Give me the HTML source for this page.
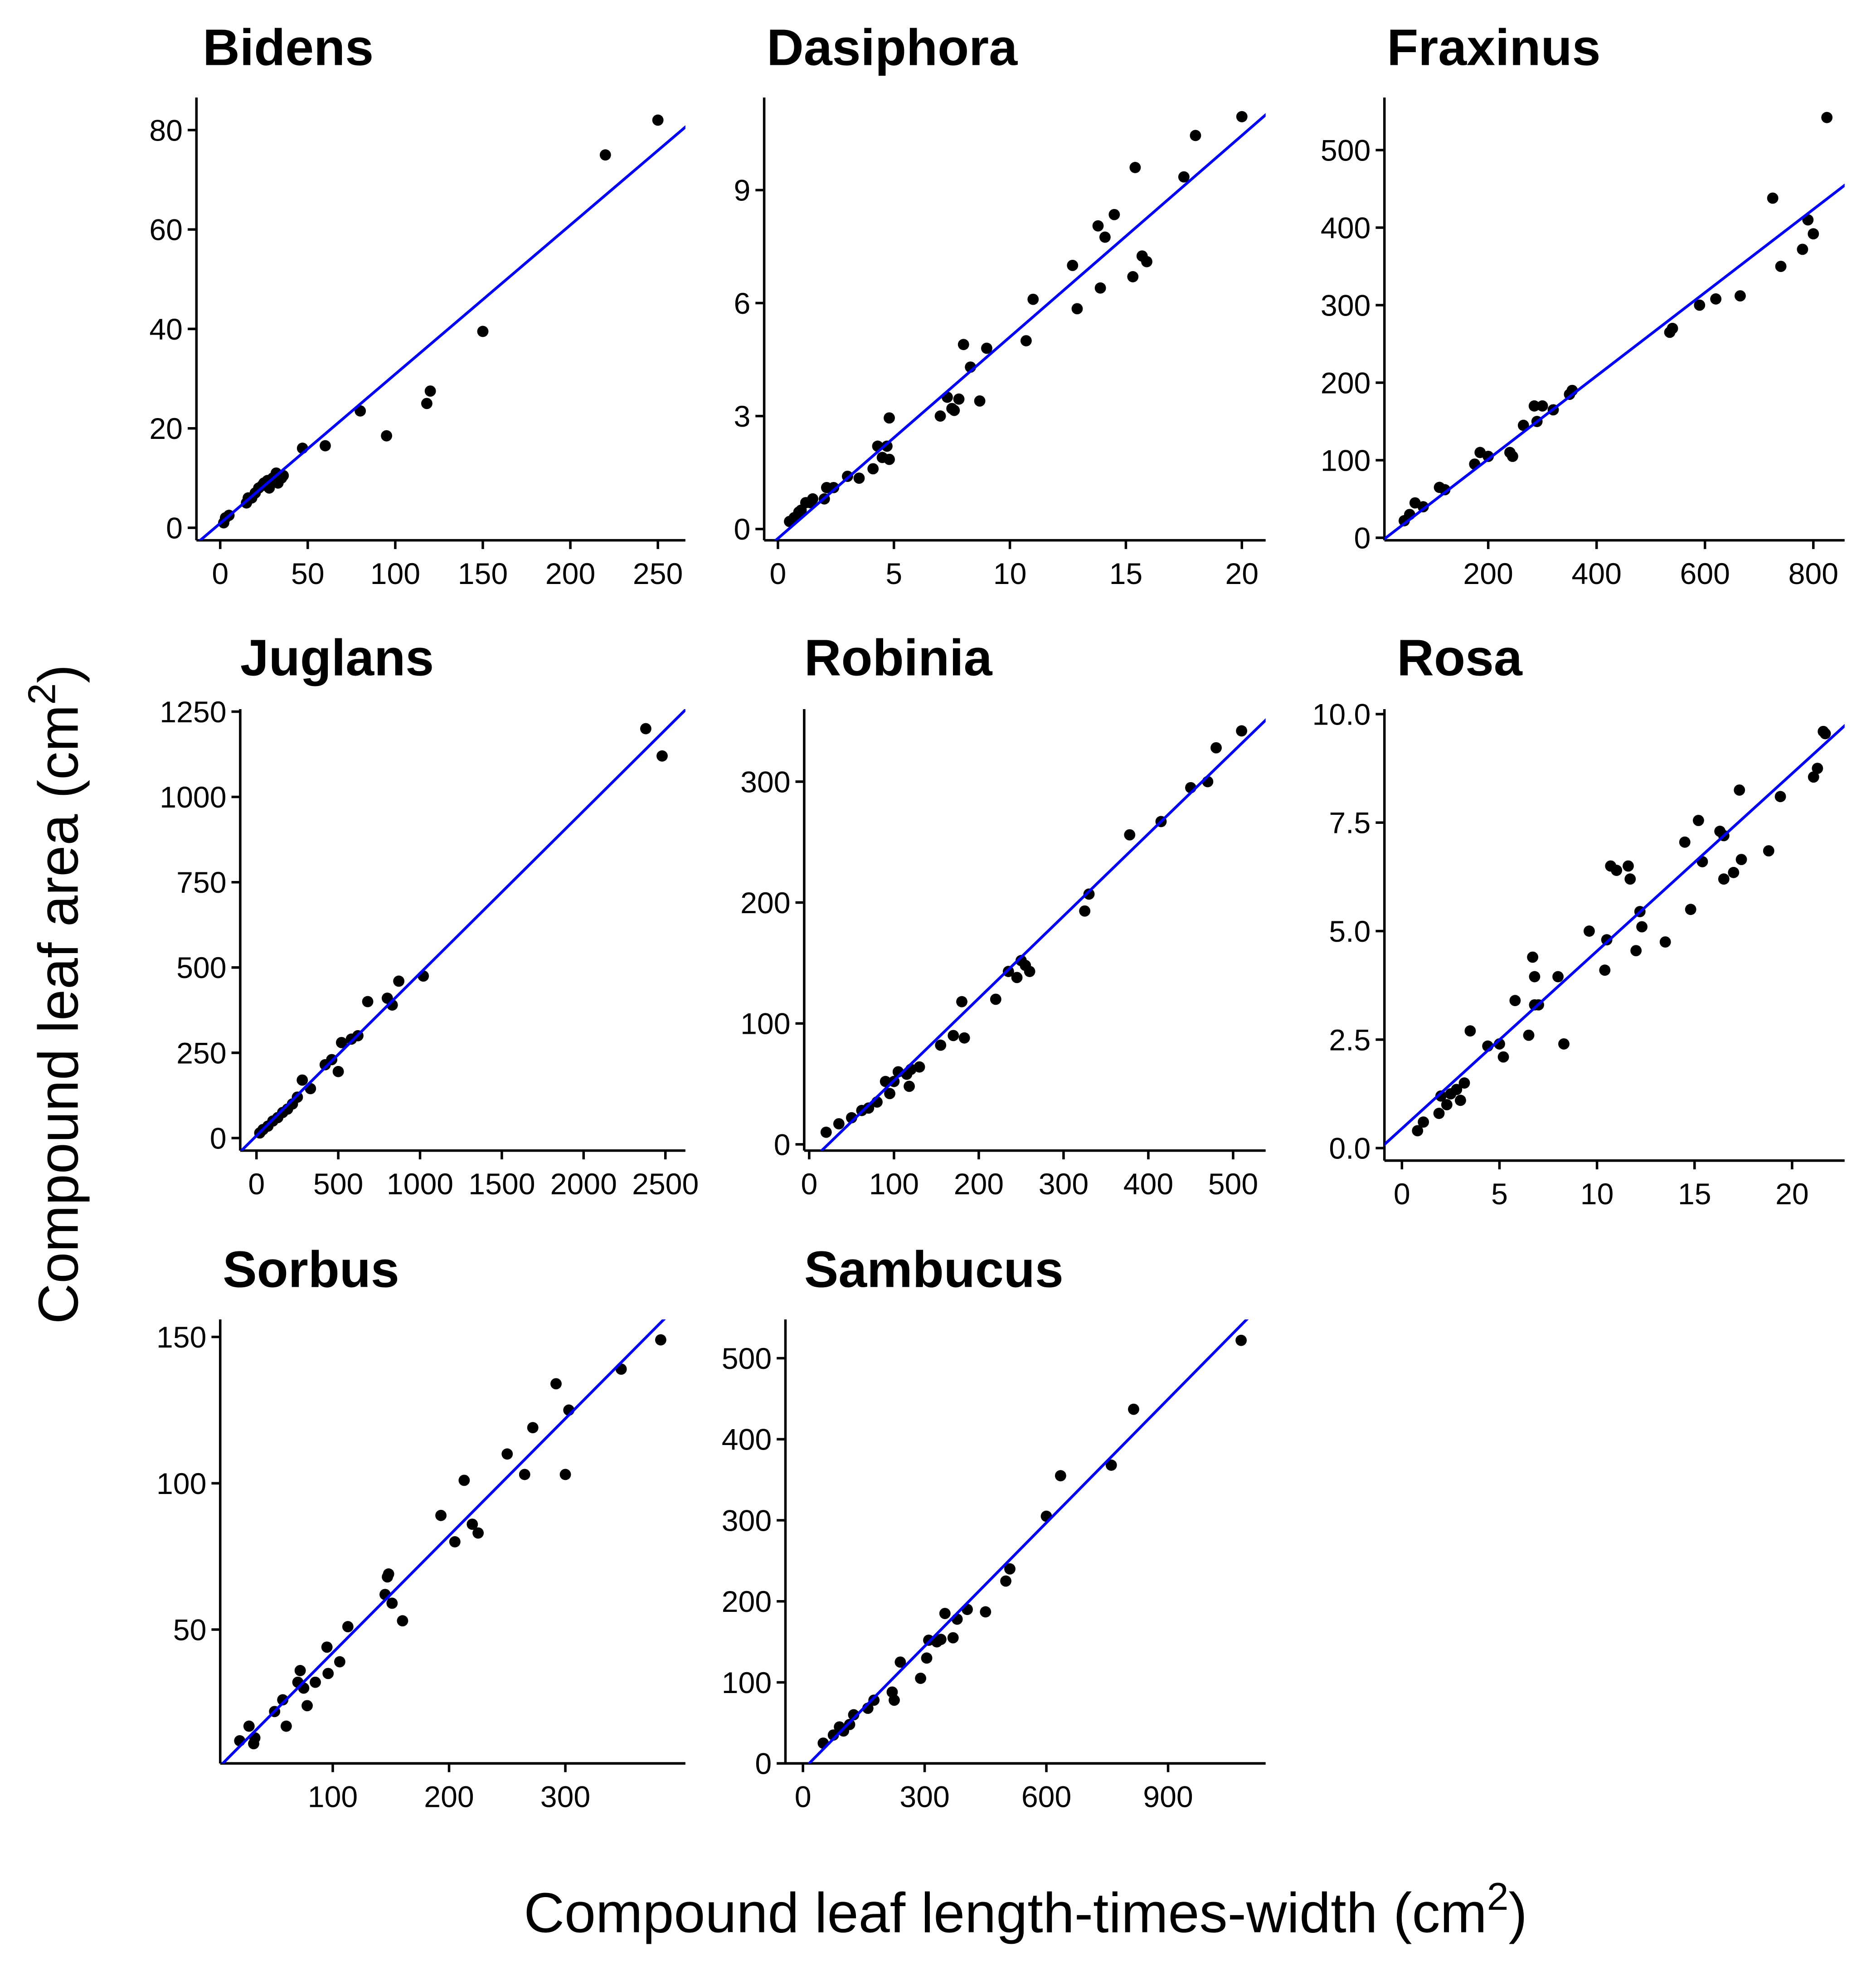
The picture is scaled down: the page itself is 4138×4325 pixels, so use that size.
<!DOCTYPE html>
<html>
<head>
<meta charset="utf-8">
<style>
html,body{margin:0;padding:0;background:#fff;}
svg{display:block;}
text{font-family:"Liberation Sans",Arial,sans-serif;fill:#000;}
</style>
</head>
<body>
<svg id="chart" xmlns="http://www.w3.org/2000/svg" width="4138" height="4325" viewBox="0 0 1500 1568">
<rect x="0" y="0" width="1500" height="1568" fill="#fff"/>
<text transform="translate(62,795) rotate(-90)" text-anchor="middle" font-size="45">Compound leaf area (cm<tspan dy="-18" font-size="31">2</tspan><tspan dy="18">)</tspan></text>
<text x="820" y="1545" text-anchor="middle" font-size="45">Compound leaf length-times-width (cm<tspan dy="-18" font-size="31">2</tspan><tspan dy="18">)</tspan></text>
</svg>
<script>
// ---- data ----
const bidensX=[2,3,5,15,16,18,20,22,24,25,27,28,30,32,33,35,36,47,60,80,95,118,120,150,220,250];
const bidensY=[1,2,2.5,5,6,6,7,8,8.5,9,9.5,8,10,11,9,10,10.5,16,16.5,23.5,18.5,25,27.5,39.5,75,82];
const dasiphoraX=[0.5,0.7,0.9,1.0,1.2,1.4,1.5,2.0,2.1,2.4,3.0,3.5,4.1,4.3,4.5,4.8,4.8,4.7,7.0,7.3,7.5,7.8,7.6,8.0,8.3,8.7,9.0,10.7,11.0,12.9,12.7,13.8,13.9,14.1,14.5,15.3,15.4,15.7,15.9,17.5,18.0,20.0];
const dasiphoraY=[0.2,0.3,0.45,0.5,0.7,0.7,0.8,0.8,1.1,1.1,1.4,1.35,1.6,2.2,1.9,1.85,2.95,2.2,3.0,3.5,3.2,3.45,3.15,4.9,4.3,3.4,4.8,5.0,6.1,5.85,7.0,8.05,6.4,7.75,8.35,6.7,9.6,7.25,7.1,9.35,10.45,10.95];
const fraxinusX=[45,55,65,80,110,120,175,185,200,240,245,265,285,290,300,320,350,355,535,540,590,620,665,725,740,780,790,800,825];
const fraxinusY=[22,30,45,40,65,62,95,110,105,110,105,145,170,150,170,165,185,190,265,270,300,308,312,438,350,372,410,392,542];
const juglansX=[20,40,70,100,130,160,190,220,250,280,330,420,460,500,520,580,620,680,800,830,870,1020,2380,2480];
const juglansY=[15,25,35,50,60,75,85,100,120,170,145,215,230,195,280,290,300,400,410,390,460,475,1200,1120];
const robiniaX=[20,35,50,62,70,80,90,95,100,105,115,118,120,130,155,170,180,183,220,235,245,250,255,260,325,330,378,415,450,470,480,510];
const robiniaY=[10,17,22,28,30,35,52,42,52,60,58,48,62,64,82,90,118,88,120,143,138,152,148,143,193,207,256,267,295,300,328,342];
const rosaX=[0.8,1.1,1.9,2,2.3,2.5,2.8,3.0,3.2,3.5,4.4,5.0,5.2,5.8,6.5,6.7,6.8,6.8,7.0,8.0,8.3,9.6,10.4,10.5,10.7,11.0,11.6,11.7,12.0,12.2,12.3,13.5,14.5,14.8,15.2,15.4,16.3,16.5,16.5,17.0,17.3,17.4,18.8,19.4,21.1,21.3,21.6,21.7];
const rosaY=[0.4,0.6,0.8,1.2,1.0,1.25,1.35,1.1,1.5,2.7,2.35,2.4,2.1,3.4,2.6,4.4,3.95,3.3,3.3,3.95,2.4,5.0,4.1,4.8,6.5,6.4,6.5,6.2,4.55,5.45,5.1,4.75,7.05,5.5,7.55,6.6,7.3,7.2,6.2,6.35,8.25,6.65,6.85,8.1,8.55,8.75,9.6,9.55];
const sorbusX=[20,28,32,33,50,57,60,70,72,75,78,85,95,96,106,113,145,147,148,151,160,193,205,213,220,225,250,265,272,292,300,303,348,382];
const sorbusY=[12,17,11,13,22,26,17,32,36,30,24,32,44,35,39,51,62,68,69,59,53,89,80,101,86,83,110,103,119,134,103,125,139,149];
const sambucusX=[50,75,90,100,115,125,160,175,220,225,240,290,305,310,330,340,350,370,380,405,450,500,510,600,635,760,815,1080];
const sambucusY=[25,35,45,40,48,60,68,78,88,78,125,105,130,152,150,153,185,155,178,190,187,225,240,305,355,368,437,522];
// regression intercepts/slopes
const fitIntercepts=[0.9,-0.25,-6,7,-15.2,0.45,2.1,-7.8];
const fitSlopes=[0.3,0.535,0.537,0.476,0.68,0.409,0.4,0.508];
// tick labels
const bidensXTicks=[0,50,100,150,200,250], bidensYTicks=[0,20,40,60,80];
const dasiphoraXTicks=[0,5,10,15,20], dasiphoraYTicks=[0,3,6,9];
const fraxinusXTicks=[200,400,600,800], fraxinusYTicks=[0,100,200,300,400,500];
const juglansXTicks=[0,500,1000,1500,2000,2500], juglansYTicks=[0,250,500,750,1000,1250];
const robiniaXTicks=[0,100,200,300,400,500], robiniaYTicks=[0,100,200,300];
const rosaXTicks=[0,5,10,15,20], rosaYTicks=["0.0","2.5","5.0","7.5","10.0"];
const sorbusXTicks=[100,200,300], sorbusYTicks=[50,100,150];
const sambucusXTicks=[0,300,600,900], sambucusYTicks=[0,100,200,300,400,500];
const names=["Bidens","Dasiphora","Fraxinus","Juglans","Robinia","Rosa","Sorbus","Sambucus"];

// ---- layout (geometry, not data) ----
const P=[
 {L:157,R:548,T:78,B:432,xa:0,xp:176,xb:250,xq:526,ya:0,yp:422,yb:80,yq:104,tx:162,ty:52},
 {L:611,R:1012,T:78,B:432,xa:0,xp:622,xb:20,xq:993,ya:0,yp:423,yb:9,yq:152,tx:613,ty:52},
 {L:1107,R:1475,T:78,B:432,xa:200,xp:1190,xb:800,xq:1450,ya:0,yp:430,yb:500,yq:120,tx:1109,ty:52},
 {L:192,R:548,T:567,B:920,xa:0,xp:205,xb:2500,xq:532,ya:0,yp:910,yb:1250,yq:569,tx:192,ty:540},
 {L:643,R:1012,T:567,B:920,xa:0,xp:647,xb:500,xq:986,ya:0,yp:915,yb:300,yq:625,tx:643,ty:540},
 {L:1107,R:1475,T:567,B:928,xa:0,xp:1121,xb:20,xq:1433,ya:0,yp:918,yb:10,yq:571,tx:1117,ty:540},
 {L:176,R:548,T:1055,B:1410,xa:100,xp:266,xb:300,xq:452,ya:50,yp:1303,yb:150,yq:1069,tx:178,ty:1029},
 {L:628,R:1012,T:1055,B:1410,xa:0,xp:642,xb:900,xq:934,ya:0,yp:1410,yb:500,yq:1086,tx:643,ty:1029}
];
const XS=[bidensX,dasiphoraX,fraxinusX,juglansX,robiniaX,rosaX,sorbusX,sambucusX];
const YS=[bidensY,dasiphoraY,fraxinusY,juglansY,robiniaY,rosaY,sorbusY,sambucusY];
const XT=[bidensXTicks,dasiphoraXTicks,fraxinusXTicks,juglansXTicks,robiniaXTicks,rosaXTicks,sorbusXTicks,sambucusXTicks];
const YT=[bidensYTicks,dasiphoraYTicks,fraxinusYTicks,juglansYTicks,robiniaYTicks,rosaYTicks,sorbusYTicks,sambucusYTicks];

const svg=document.getElementById('chart');
const NS="http://www.w3.org/2000/svg";
function mk(tag,attrs,parent){const e=document.createElementNS(NS,tag);for(const k in attrs)e.setAttribute(k,attrs[k]);(parent||svg).appendChild(e);return e;}
const defs=mk('defs',{});
P.forEach((p,i)=>{
  const key=names[i].toLowerCase();
  const sx=v=>p.xp+(v-p.xa)*(p.xq-p.xp)/(p.xb-p.xa);
  const sy=v=>p.yp+(v-p.ya)*(p.yq-p.yp)/(p.yb-p.ya);
  const ix=px=>p.xa+(px-p.xp)*(p.xb-p.xa)/(p.xq-p.xp);
  const g=mk('g',{});
  
  
  const cp=mk('clipPath',{id:'clip'+i},defs);
  mk('rect',{x:p.L,y:p.T,width:p.R-p.L,height:p.B-p.T},cp);
  const t=mk('text',{x:p.tx,y:p.ty,'font-size':41,'font-weight':'bold'},g);
  t.textContent=names[i];
  
  
  const ya=mk('line',{x1:p.L,y1:p.T,x2:p.L,y2:p.B,stroke:'#000','stroke-width':2},g);
  
  
  const xa=mk('line',{x1:p.L,y1:p.B,x2:p.R,y2:p.B,stroke:'#000','stroke-width':2},g);
  
  
  XT[i].forEach(v=>{
    const x=sx(+v);
    mk('line',{x1:x,y1:p.B,x2:x,y2:p.B+7,stroke:'#000','stroke-width':2},g);
    const tl=mk('text',{x:x,y:p.B+35,'font-size':24,'text-anchor':'middle'},g);
    tl.textContent=v;
    
    
  });
  YT[i].forEach(v=>{
    const y=sy(+v);
    mk('line',{x1:p.L-7,y1:y,x2:p.L,y2:y,stroke:'#000','stroke-width':2},g);
    const tl=mk('text',{x:p.L-11,y:y+8.5,'font-size':24,'text-anchor':'end'},g);
    tl.textContent=v;
    
    
  });
  XS[i].forEach((xv,j)=>{
    const c=mk('circle',{cx:sx(xv),cy:sy(YS[i][j]),r:4.5,fill:'#000'},g);
    
    
  });
  const x1=ix(p.L-5),x2=ix(p.R+5);
  const fl=mk('line',{x1:sx(x1),y1:sy(fitIntercepts[i]+fitSlopes[i]*x1),x2:sx(x2),y2:sy(fitIntercepts[i]+fitSlopes[i]*x2),stroke:'#0000ff','stroke-width':2.2,'clip-path':'url(#clip'+i+')'},g);
  
  
});
</script>
</body>
</html>
